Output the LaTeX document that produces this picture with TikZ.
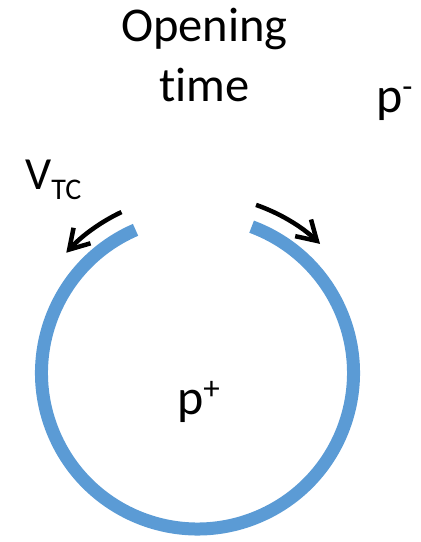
\documentclass[tikz,border=0pt]{standalone}
\usepackage{fontspec}
\setmainfont{Carlito}[Ligatures=NoCommon]
\usetikzlibrary{arrows.meta, positioning}
\definecolor{ringcolor}{RGB}{91,155,213}

\begin{document}
\begin{tikzpicture}[x=1pt, y=1pt]
  \tikzset{
    ring/.style={
      draw=ringcolor,
      line width=13pt
    },
    flow/.style={
      draw=black,
      line width=4.5pt,
      -{Straight Barb[length=19pt, width=23pt, line width=4.5pt]}
    },
    label/.style={
      inner sep=0pt,
      text=black
    }
  }
  \useasboundingbox (0,0) rectangle (421,542);

  % Centre of the ring
  \coordinate (centre) at (197.5,169);

  % Draw the open ring
  \draw[ring] ([shift={(113.4:156)}]centre) arc[start angle=113.4, end angle=429.7, radius=156];

  % Flow arrows at the opening
  \draw[flow] ([shift={(115.3:178)}]centre) arc[start angle=115.3, end angle=137.5, radius=178];
  \draw[flow] ([shift={(70.8:178)}]centre) arc[start angle=70.8, end angle=46.5, radius=178];

  % Labels
  \node[label, align=center, font=\fontsize{48.5}{60}\selectfont, anchor=center] at (204.5,487) (title) {Opening\\time};
  \node[label, font=\fontsize{50}{60}\selectfont, anchor=base west] at (376,429) (pout)
    {p\raisebox{15pt}{\fontsize{33}{33}\selectfont -}};
  \node[label, font=\fontsize{50}{60}\selectfont, anchor=base west] at (177,127) (pin)
    {p\raisebox{15pt}{\fontsize{33}{33}\selectfont +}};
  \node[label, font=\fontsize{46}{55}\selectfont, anchor=base west] at (25,352) (vtc)
    {V\raisebox{-10pt}{\fontsize{30}{30}\selectfont TC}};

\end{tikzpicture}
\end{document}
